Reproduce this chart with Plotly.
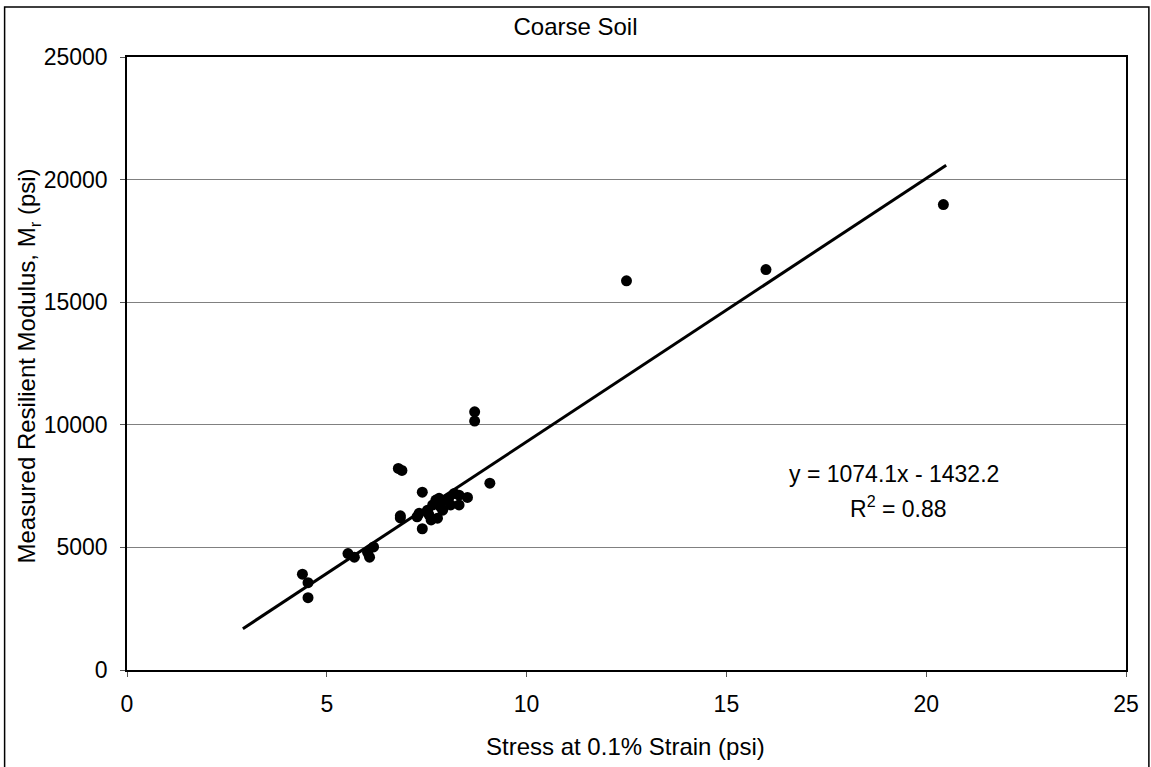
import plotly.graph_objects as go

stress_psi = [4.39, 4.53, 4.53, 5.53, 5.69, 6.02, 6.07, 6.17,
              6.79, 6.88, 6.84, 6.84, 7.26, 7.39, 7.39,
              7.31, 7.52, 7.61, 7.65, 7.73, 7.77, 7.81, 7.90, 7.98,
              8.10, 8.19, 8.31, 8.31, 8.52, 7.55, 7.85, 8.05,
              8.70, 8.70, 9.08, 12.5, 15.99, 20.43]
modulus_psi = [3910, 3560, 2950, 4750, 4600, 4800, 4600, 5020,
               8220, 8140, 6290, 6200, 6250, 7250, 5760,
               6390, 6520, 6120, 6730, 6930, 6190, 7000, 6520, 6930,
               6730, 7200, 7130, 6730, 7040, 6350, 6650, 7000,
               10530, 10150, 7620, 15870, 16330, 18980]

# Trendline y = slope*x + intercept
slope = 1074.1
intercept = -1432.2
trend_x = [2.9, 20.5]
trend_y = [slope * x + intercept for x in trend_x]

x_ticks = [0, 5, 10, 15, 20, 25]
x_tick_labels = ["0", "5", "10", "15", "20", "25"]
y_ticks = [0, 5000, 10000, 15000, 20000, 25000]
y_tick_labels = ["0", "5000", "10000", "15000", "20000", "25000"]

W, H = 1151, 767
L, R, T, B = 127, 1131, 57, 670
pw, ph = R - L, B - T
FS = 23
FT = 24

def px_x(p):
    return (p - L) / pw

def px_y(p):
    return (B - p) / ph

fig = go.Figure()
fig.add_trace(go.Scatter(x=trend_x, y=trend_y, mode="lines",
                         line=dict(color="black", width=3), hoverinfo="skip"))
fig.add_trace(go.Scatter(x=stress_psi, y=modulus_psi, mode="markers",
                         marker=dict(color="black", size=11)))

font = "Liberation Sans, Arial, sans-serif"
fig.update_layout(
    width=W, height=H,
    margin=dict(l=L, r=W - R, t=T, b=H - B),
    paper_bgcolor="white", plot_bgcolor="white",
    showlegend=False,
    font=dict(family=font, size=FS, color="black"),
    title=dict(text="Coarse Soil", x=0.5, xref="container", xanchor="center",
               y=1 - 27 / H, yref="container", yanchor="middle",
               font=dict(size=FT, family=font, color="black")),
    xaxis=dict(range=[0, 25], tickvals=x_ticks, ticktext=x_tick_labels,
               showgrid=False, zeroline=False,
               showline=True, linecolor="black", linewidth=1.5, mirror=True,
               ticks="outside", ticklen=5, tickcolor="#555",
               ticklabelstandoff=8,
               tickfont=dict(size=FS)),
    yaxis=dict(range=[0, 25000], tickvals=y_ticks, ticktext=y_tick_labels,
               showgrid=True, gridcolor="#808080", gridwidth=1, zeroline=False,
               showline=True, linecolor="black", linewidth=1.5, mirror=True,
               ticks="outside", ticklen=5, tickcolor="#555",
               ticklabelstandoff=8,
               tickfont=dict(size=FS)),
)

# Outer chart border (left and top visible)
fig.add_shape(type="rect", xref="paper", yref="paper",
              x0=px_x(4), x1=px_x(W + 3),
              y0=px_y(H + 3), y1=px_y(7),
              line=dict(color="black", width=1.5), layer="below")

# Axis titles
fig.add_annotation(x=px_x(628), y=px_y(746), xref="paper", yref="paper",
                   text="Stress at 0.1% Strain (psi)", showarrow=False,
                   xanchor="center", yanchor="middle",
                   font=dict(size=FT, family=font, color="black"))
fig.add_annotation(x=px_x(28), y=px_y(366), xref="paper", yref="paper",
                   text="Measured Resilient Modulus, M<sub>r</sub> (psi)",
                   showarrow=False, textangle=-90,
                   xanchor="center", yanchor="middle",
                   font=dict(size=FT, family=font, color="black"))

# Trendline equation
fig.add_annotation(x=px_x(898), y=px_y(474), xref="paper", yref="paper",
                   text="y = 1074.1x - 1432.2", showarrow=False,
                   xanchor="center", yanchor="middle",
                   font=dict(size=FS, family=font, color="black"))
fig.add_annotation(x=px_x(902), y=px_y(507), xref="paper", yref="paper",
                   text="R<sup>2</sup> = 0.88", showarrow=False,
                   xanchor="center", yanchor="middle",
                   font=dict(size=FS, family=font, color="black"))

fig.write_html("out.html")
